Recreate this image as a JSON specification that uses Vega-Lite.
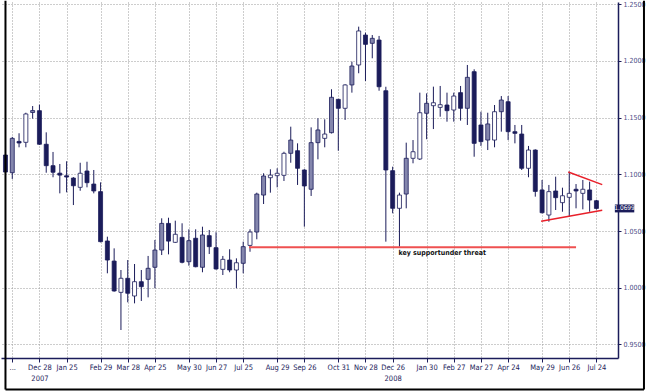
{
  "$schema": "https://vega.github.io/schema/vega-lite/v6.json",
  "width": 617,
  "height": 356,
  "autosize": "none",
  "padding": {"left": 1, "top": 2, "right": 33, "bottom": 34},
  "background": "white",
  "config": {
    "view": {"stroke": null},
    "axis": {
      "title": null,
      "domainColor": "#1b1c5a",
      "tickColor": "#1b1c5a",
      "grid": true,
      "gridColor": "#9a9a9a",
      "gridDash": [1, 2],
      "gridWidth": 1,
      "labelFont": "DejaVu Sans Condensed, Liberation Sans, sans-serif",
      "labelColor": "#1b1c5a"
    }
  },
  "datasets": {
    "candles": [
      {"d": "2007-11-23", "o": 1.1170, "h": 1.1200, "l": 1.0990, "c": 1.1020, "t": "d"},
      {"d": "2007-11-30", "o": 1.1014, "h": 1.1330, "l": 1.0959, "c": 1.1317, "t": "g"},
      {"d": "2007-12-07", "o": 1.1290, "h": 1.1362, "l": 1.1238, "c": 1.1276, "t": "d"},
      {"d": "2007-12-14", "o": 1.1282, "h": 1.1543, "l": 1.1238, "c": 1.1532, "t": "u"},
      {"d": "2007-12-21", "o": 1.1545, "h": 1.1602, "l": 1.1491, "c": 1.1562, "t": "g"},
      {"d": "2007-12-28", "o": 1.1561, "h": 1.1614, "l": 1.1260, "c": 1.1265, "t": "d"},
      {"d": "2008-01-04", "o": 1.1265, "h": 1.1370, "l": 1.1014, "c": 1.1076, "t": "d"},
      {"d": "2008-01-11", "o": 1.1076, "h": 1.1197, "l": 1.0974, "c": 1.1018, "t": "d"},
      {"d": "2008-01-18", "o": 1.1010, "h": 1.1091, "l": 1.0832, "c": 1.0993, "t": "d"},
      {"d": "2008-01-25", "o": 1.0987, "h": 1.1115, "l": 1.0841, "c": 1.0976, "t": "d"},
      {"d": "2008-02-01", "o": 1.0967, "h": 1.0975, "l": 1.0729, "c": 1.0899, "t": "d"},
      {"d": "2008-02-08", "o": 1.0885, "h": 1.1102, "l": 1.0855, "c": 1.1009, "t": "u"},
      {"d": "2008-02-15", "o": 1.1029, "h": 1.1111, "l": 1.0885, "c": 1.0926, "t": "d"},
      {"d": "2008-02-22", "o": 1.0914, "h": 1.1038, "l": 1.0832, "c": 1.0853, "t": "d"},
      {"d": "2008-02-29", "o": 1.0847, "h": 1.0929, "l": 1.0400, "c": 1.0406, "t": "d"},
      {"d": "2008-03-07", "o": 1.0412, "h": 1.0450, "l": 1.0127, "c": 1.0244, "t": "d"},
      {"d": "2008-03-14", "o": 1.0235, "h": 1.0347, "l": 0.9965, "c": 0.9971, "t": "d"},
      {"d": "2008-03-21", "o": 0.9959, "h": 1.0156, "l": 0.9627, "c": 1.0083, "t": "u"},
      {"d": "2008-03-28", "o": 1.0083, "h": 1.0244, "l": 0.9871, "c": 0.9951, "t": "d"},
      {"d": "2008-04-04", "o": 0.9927, "h": 1.0209, "l": 0.9862, "c": 1.0053, "t": "u"},
      {"d": "2008-04-11", "o": 1.0053, "h": 1.0156, "l": 0.9883, "c": 1.0009, "t": "d"},
      {"d": "2008-04-18", "o": 1.0074, "h": 1.0280, "l": 0.9915, "c": 1.0171, "t": "g"},
      {"d": "2008-04-25", "o": 1.0180, "h": 1.0421, "l": 0.9995, "c": 1.0332, "t": "g"},
      {"d": "2008-05-02", "o": 1.0332, "h": 1.0612, "l": 1.0288, "c": 1.0567, "t": "g"},
      {"d": "2008-05-09", "o": 1.0567, "h": 1.0617, "l": 1.0294, "c": 1.0411, "t": "d"},
      {"d": "2008-05-16", "o": 1.0400, "h": 1.0591, "l": 1.0395, "c": 1.0471, "t": "u"},
      {"d": "2008-05-23", "o": 1.0444, "h": 1.0568, "l": 1.0215, "c": 1.0224, "t": "d"},
      {"d": "2008-05-30", "o": 1.0229, "h": 1.0515, "l": 1.0194, "c": 1.0415, "t": "g"},
      {"d": "2008-06-06", "o": 1.0436, "h": 1.0515, "l": 1.0180, "c": 1.0185, "t": "d"},
      {"d": "2008-06-13", "o": 1.0180, "h": 1.0538, "l": 1.0136, "c": 1.0465, "t": "g"},
      {"d": "2008-06-20", "o": 1.0459, "h": 1.0509, "l": 1.0297, "c": 1.0362, "t": "d"},
      {"d": "2008-06-27", "o": 1.0353, "h": 1.0489, "l": 1.0160, "c": 1.0165, "t": "d"},
      {"d": "2008-07-04", "o": 1.0162, "h": 1.0280, "l": 1.0112, "c": 1.0250, "t": "u"},
      {"d": "2008-07-11", "o": 1.0244, "h": 1.0339, "l": 1.0136, "c": 1.0156, "t": "d"},
      {"d": "2008-07-18", "o": 1.0156, "h": 1.0259, "l": 0.9995, "c": 1.0220, "t": "u"},
      {"d": "2008-07-25", "o": 1.0215, "h": 1.0406, "l": 1.0127, "c": 1.0362, "t": "g"},
      {"d": "2008-08-01", "o": 1.0373, "h": 1.0515, "l": 1.0317, "c": 1.0491, "t": "u"},
      {"d": "2008-08-08", "o": 1.0491, "h": 1.0838, "l": 1.0427, "c": 1.0826, "t": "g"},
      {"d": "2008-08-15", "o": 1.0817, "h": 1.1009, "l": 1.0738, "c": 1.0985, "t": "g"},
      {"d": "2008-08-22", "o": 1.0970, "h": 1.1044, "l": 1.0838, "c": 1.0993, "t": "u"},
      {"d": "2008-08-29", "o": 1.0988, "h": 1.1053, "l": 1.0885, "c": 1.1009, "t": "u"},
      {"d": "2008-09-05", "o": 1.0991, "h": 1.1199, "l": 1.0941, "c": 1.1185, "t": "u"},
      {"d": "2008-09-12", "o": 1.1185, "h": 1.1420, "l": 1.1102, "c": 1.1302, "t": "g"},
      {"d": "2008-09-19", "o": 1.1208, "h": 1.1273, "l": 1.0906, "c": 1.1053, "t": "d"},
      {"d": "2008-09-26", "o": 1.1038, "h": 1.1045, "l": 1.0538, "c": 1.0897, "t": "d"},
      {"d": "2008-10-03", "o": 1.0868, "h": 1.1414, "l": 1.0809, "c": 1.1279, "t": "g"},
      {"d": "2008-10-10", "o": 1.1279, "h": 1.1494, "l": 1.1132, "c": 1.1391, "t": "g"},
      {"d": "2008-10-17", "o": 1.1317, "h": 1.1485, "l": 1.1238, "c": 1.1355, "t": "u"},
      {"d": "2008-10-24", "o": 1.1367, "h": 1.1750, "l": 1.1360, "c": 1.1679, "t": "g"},
      {"d": "2008-10-31", "o": 1.1661, "h": 1.1665, "l": 1.1208, "c": 1.1582, "t": "d"},
      {"d": "2008-11-07", "o": 1.1582, "h": 1.1794, "l": 1.1479, "c": 1.1788, "t": "u"},
      {"d": "2008-11-14", "o": 1.1788, "h": 1.1993, "l": 1.1720, "c": 1.1955, "t": "g"},
      {"d": "2008-11-21", "o": 1.1964, "h": 1.2302, "l": 1.1891, "c": 1.2264, "t": "u"},
      {"d": "2008-11-28", "o": 1.2228, "h": 1.2249, "l": 1.1823, "c": 1.2146, "t": "d"},
      {"d": "2008-12-05", "o": 1.2155, "h": 1.2228, "l": 1.2023, "c": 1.2199, "t": "g"},
      {"d": "2008-12-12", "o": 1.2184, "h": 1.2220, "l": 1.1737, "c": 1.1772, "t": "d"},
      {"d": "2008-12-19", "o": 1.1737, "h": 1.1772, "l": 1.0406, "c": 1.1038, "t": "d"},
      {"d": "2008-12-26", "o": 1.1032, "h": 1.1067, "l": 1.0656, "c": 1.0700, "t": "d"},
      {"d": "2009-01-02", "o": 1.0700, "h": 1.0838, "l": 1.0362, "c": 1.0817, "t": "u"},
      {"d": "2009-01-09", "o": 1.0826, "h": 1.1279, "l": 1.0700, "c": 1.1141, "t": "g"},
      {"d": "2009-01-16", "o": 1.1141, "h": 1.1302, "l": 1.1097, "c": 1.1199, "t": "u"},
      {"d": "2009-01-23", "o": 1.1135, "h": 1.1720, "l": 1.1126, "c": 1.1543, "t": "u"},
      {"d": "2009-01-30", "o": 1.1538, "h": 1.1714, "l": 1.1309, "c": 1.1626, "t": "g"},
      {"d": "2009-02-06", "o": 1.1605, "h": 1.1773, "l": 1.1399, "c": 1.1631, "t": "u"},
      {"d": "2009-02-13", "o": 1.1590, "h": 1.1779, "l": 1.1508, "c": 1.1614, "t": "u"},
      {"d": "2009-02-20", "o": 1.1611, "h": 1.1720, "l": 1.1464, "c": 1.1561, "t": "d"},
      {"d": "2009-02-27", "o": 1.1567, "h": 1.1720, "l": 1.1464, "c": 1.1690, "t": "u"},
      {"d": "2009-03-06", "o": 1.1720, "h": 1.1779, "l": 1.1473, "c": 1.1582, "t": "d"},
      {"d": "2009-03-13", "o": 1.1582, "h": 1.1964, "l": 1.1435, "c": 1.1855, "t": "g"},
      {"d": "2009-03-20", "o": 1.1905, "h": 1.1926, "l": 1.1155, "c": 1.1273, "t": "d"},
      {"d": "2009-03-27", "o": 1.1435, "h": 1.1552, "l": 1.1250, "c": 1.1288, "t": "d"},
      {"d": "2009-04-03", "o": 1.1302, "h": 1.1543, "l": 1.1214, "c": 1.1444, "t": "g"},
      {"d": "2009-04-10", "o": 1.1302, "h": 1.1611, "l": 1.1238, "c": 1.1552, "t": "u"},
      {"d": "2009-04-17", "o": 1.1552, "h": 1.1690, "l": 1.1376, "c": 1.1655, "t": "g"},
      {"d": "2009-04-24", "o": 1.1640, "h": 1.1690, "l": 1.1302, "c": 1.1376, "t": "d"},
      {"d": "2009-05-01", "o": 1.1376, "h": 1.1435, "l": 1.1273, "c": 1.1361, "t": "d"},
      {"d": "2009-05-08", "o": 1.1355, "h": 1.1435, "l": 1.1038, "c": 1.1053, "t": "d"},
      {"d": "2009-05-15", "o": 1.1053, "h": 1.1250, "l": 1.0974, "c": 1.1214, "t": "u"},
      {"d": "2009-05-22", "o": 1.1214, "h": 1.1220, "l": 1.0803, "c": 1.0849, "t": "d"},
      {"d": "2009-05-29", "o": 1.0862, "h": 1.0950, "l": 1.0655, "c": 1.0661, "t": "d"},
      {"d": "2009-06-05", "o": 1.0641, "h": 1.0906, "l": 1.0582, "c": 1.0847, "t": "u"},
      {"d": "2009-06-12", "o": 1.0853, "h": 1.0979, "l": 1.0685, "c": 1.0794, "t": "d"},
      {"d": "2009-06-19", "o": 1.0750, "h": 1.0882, "l": 1.0670, "c": 1.0811, "t": "u"},
      {"d": "2009-06-26", "o": 1.0797, "h": 1.1023, "l": 1.0626, "c": 1.0832, "t": "u"},
      {"d": "2009-07-03", "o": 1.0868, "h": 1.0914, "l": 1.0700, "c": 1.0853, "t": "d"},
      {"d": "2009-07-10", "o": 1.0832, "h": 1.0950, "l": 1.0691, "c": 1.0868, "t": "u"},
      {"d": "2009-07-17", "o": 1.0862, "h": 1.0935, "l": 1.0670, "c": 1.0773, "t": "d"},
      {"d": "2009-07-24", "o": 1.0767, "h": 1.0775, "l": 1.0690, "c": 1.0699, "t": "d"}
    ],
    "support": [
      {"x1": "2008-07-31", "x2": "2009-07-03", "y1": 1.0357}
    ],
    "triangle": [
      {"x1": "2009-06-25", "x2": "2009-07-30", "y1": 1.1020, "y2": 1.0909},
      {"x1": "2009-05-28", "x2": "2009-07-30", "y1": 1.0586, "y2": 1.0683}
    ],
    "notes": [
      {"x": "2009-01-01", "y": 1.0306, "label": "key supportunder threat"}
    ],
    "lastprice": [
      {"x1": "2009-08-12", "x2": "2009-09-01", "xm": "2009-08-22", "y1": 1.0664, "y2": 1.0734, "y": 1.0699, "label": "1.0699"}
    ],
    "frame": [
      {"x1": "2007-11-23", "x2": "2007-11-23", "y1": 0.9103, "y2": 1.2531},
      {"x1": "2007-11-23", "x2": "2009-09-11", "y1": 0.9103, "y2": 0.9103},
      {"x1": "2009-09-11", "x2": "2009-09-11", "y1": 0.9103, "y2": 1.2531}
    ]
  },
  "layer": [
    {
      "data": {"name": "candles"},
      "mark": {"type": "rule", "color": "#1b1c5a", "strokeWidth": 1, "clip": true},
      "encoding": {
        "x": {
          "field": "d",
          "type": "temporal",
          "scale": {
            "type": "utc",
            "domain": [
              {"year": 2007, "month": "Nov", "date": 23, "hours": 13, "utc": true},
              {"year": 2009, "month": "Aug", "date": 10, "hours": 2, "utc": true}
            ]
          },
          "axis": {
            "orient": "bottom",
            "tickCount": 100,
            "values": [
              {"year": 2007, "month": "Nov", "date": 30, "utc": true},
              {"year": 2007, "month": "Dec", "date": 28, "utc": true},
              {"year": 2008, "month": "Jan", "date": 25, "utc": true},
              {"year": 2008, "month": "Feb", "date": 29, "utc": true},
              {"year": 2008, "month": "Mar", "date": 28, "utc": true},
              {"year": 2008, "month": "Apr", "date": 25, "utc": true},
              {"year": 2008, "month": "May", "date": 30, "utc": true},
              {"year": 2008, "month": "Jun", "date": 27, "utc": true},
              {"year": 2008, "month": "Jul", "date": 25, "utc": true},
              {"year": 2008, "month": "Aug", "date": 29, "utc": true},
              {"year": 2008, "month": "Sep", "date": 26, "utc": true},
              {"year": 2008, "month": "Oct", "date": 31, "utc": true},
              {"year": 2008, "month": "Nov", "date": 28, "utc": true},
              {"year": 2008, "month": "Dec", "date": 26, "utc": true},
              {"year": 2009, "month": "Jan", "date": 30, "utc": true},
              {"year": 2009, "month": "Feb", "date": 27, "utc": true},
              {"year": 2009, "month": "Mar", "date": 27, "utc": true},
              {"year": 2009, "month": "Apr", "date": 24, "utc": true},
              {"year": 2009, "month": "May", "date": 29, "utc": true},
              {"year": 2009, "month": "Jun", "date": 26, "utc": true},
              {"year": 2009, "month": "Jul", "date": 24, "utc": true}
            ],
            "labelExpr": "utcFormat(datum.value, '%m-%d') == '11-30' ? '...' : (utcFormat(datum.value, '%m') == '12' ? [utcFormat(datum.value, '%b %d'), utcFormat(datum.value, '%Y')] : utcFormat(datum.value, '%b %d'))",
            "labelFontSize": 7.5,
            "labelLineHeight": 11,
            "labelPadding": 1,
            "labelOverlap": false,
            "labelSeparation": 0,
            "labelFlush": false,
            "tickSize": 4,
            "domainWidth": 1.5
          }
        },
        "y": {
          "field": "l",
          "type": "quantitative",
          "scale": {"domain": [0.93801, 1.25194], "nice": false, "zero": false},
          "axis": {
            "orient": "right",
            "values": [0.95, 0.975, 1.0, 1.025, 1.05, 1.075, 1.1, 1.125, 1.15, 1.175, 1.2, 1.225, 1.25],
            "labelExpr": "round(datum.value * 1000) % 50 != 0 ? '' : format(datum.value, '.4f')",
            "gridOpacity": {"condition": {"test": "round(datum.value * 1000) % 50 != 0", "value": 0}, "value": 1},
            "labelFontSize": 7,
            "labelColor": "#4a4c86",
            "labelPadding": 2,
            "tickSize": 3,
            "domainWidth": 1.5
          }
        },
        "y2": {"field": "h"}
      }
    },
    {
      "data": {"name": "candles"},
      "mark": {"type": "bar", "size": 4, "stroke": "#1b1c5a", "strokeWidth": 0.8, "clip": true},
      "encoding": {
        "x": {"field": "d", "type": "temporal"},
        "y": {"field": "o", "type": "quantitative"},
        "y2": {"field": "c"},
        "color": {
          "field": "t",
          "type": "nominal",
          "scale": {"domain": ["d", "u", "g"], "range": ["#1b1c5a", "#ffffff", "#8486ad"]},
          "legend": null
        }
      }
    },
    {
      "data": {"name": "support"},
      "mark": {"type": "rule", "color": "#ef5050", "strokeWidth": 2},
      "encoding": {
        "x": {"field": "x1", "type": "temporal"},
        "x2": {"field": "x2"},
        "y": {"field": "y1", "type": "quantitative"}
      }
    },
    {
      "data": {"name": "triangle"},
      "mark": {"type": "rule", "color": "#e8202a", "strokeWidth": 1.5, "clip": false},
      "encoding": {
        "x": {"field": "x1", "type": "temporal"},
        "x2": {"field": "x2"},
        "y": {"field": "y1", "type": "quantitative"},
        "y2": {"field": "y2"}
      }
    },
    {
      "data": {"name": "notes"},
      "mark": {"type": "text", "align": "left", "baseline": "middle", "font": "DejaVu Sans Condensed, Liberation Sans, sans-serif", "fontWeight": "bold", "fontSize": 7, "color": "#111111"},
      "encoding": {
        "x": {"field": "x", "type": "temporal"},
        "y": {"field": "y", "type": "quantitative"},
        "text": {"field": "label"}
      }
    },
    {
      "data": {"name": "lastprice"},
      "mark": {"type": "rect", "color": "#1b1c5a", "clip": false},
      "encoding": {
        "x": {"field": "x1", "type": "temporal"},
        "x2": {"field": "x2"},
        "y": {"field": "y1", "type": "quantitative"},
        "y2": {"field": "y2"}
      }
    },
    {
      "data": {"name": "lastprice"},
      "mark": {"type": "text", "align": "center", "baseline": "middle", "font": "DejaVu Sans Condensed, Liberation Sans, sans-serif", "fontSize": 6.5, "color": "#ffffff", "clip": false},
      "encoding": {
        "x": {"field": "xm", "type": "temporal"},
        "y": {"field": "y", "type": "quantitative"},
        "text": {"field": "label"}
      }
    },
    {
      "data": {"name": "frame"},
      "mark": {"type": "rule", "color": "#000000", "strokeWidth": 2, "clip": false},
      "encoding": {
        "x": {"field": "x1", "type": "temporal"},
        "x2": {"field": "x2"},
        "y": {"field": "y1", "type": "quantitative"},
        "y2": {"field": "y2"}
      }
    }
  ]
}
